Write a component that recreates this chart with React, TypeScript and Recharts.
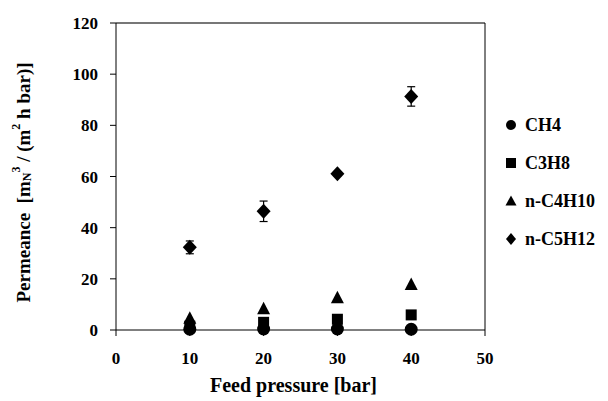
import React from 'react';
import { ScatterChart, Scatter, XAxis, YAxis, ErrorBar, Legend, ReferenceLine, Label } from 'recharts';

const pressures = [10, 20, 30, 40];
const ch4 = [0.3, 0.4, 0.4, 0.3];
const c3h8 = [1.5, 3.0, 4.2, 5.9];
const nc4h10 = [4.6, 8.3, 12.6, 17.8];
const nc5h12 = [32.3, 46.4, 61.1, 91.3];
const nc5h12Err = [2.5, 4.0, 0.8, 3.8];
const xTicks = [0, 10, 20, 30, 40, 50];
const yTicks = [0, 20, 40, 60, 80, 100, 120];
const seriesNames = ['CH4', 'C3H8', 'n-C4H10', 'n-C5H12'];

const FONT = '"Liberation Serif", "Times New Roman", serif';

const mk = (vals: number[], errs?: number[]) =>
  pressures.map((p, i) => ({ x: p, y: vals[i], err: errs ? errs[i] : 0 }));

const CircleShape = (p: any) => <circle cx={p.cx} cy={p.cy} r={6.5} fill="#000" />;
const SquareShape = (p: any) => <rect x={p.cx - 5.5} y={p.cy - 5.5} width={11} height={11} fill="#000" />;
const TriangleShape = (p: any) => (
  <path d={`M${p.cx},${p.cy - 7} L${p.cx + 6.5},${p.cy + 5.5} L${p.cx - 6.5},${p.cy + 5.5} Z`} fill="#000" />
);
const DiamondShape = (p: any) => (
  <path d={`M${p.cx},${p.cy - 7.5} L${p.cx + 7},${p.cy} L${p.cx},${p.cy + 7.5} L${p.cx - 7},${p.cy} Z`} fill="#000" />
);

const legendIcons = [
  <circle cx={6} cy={6} r={5} fill="#000" />,
  <rect x={1} y={1} width={10} height={10} fill="#000" />,
  <path d="M6,0.5 L11.5,10.5 L0.5,10.5 Z" fill="#000" />,
  <path d="M6,0 L11,6 L6,12 L1,6 Z" fill="#000" />,
];

const LegendContent = () => (
  <div style={{ fontFamily: FONT, fontWeight: 'bold', fontSize: 18, color: '#000', width: 110 }}>
    {seriesNames.map((n, i) => (
      <div key={n} style={{ display: 'flex', alignItems: 'center', height: 38, whiteSpace: 'nowrap' }}>
        <svg width={12} height={12} style={{ marginRight: 8 }}>{legendIcons[i]}</svg>
        <span>{n}</span>
      </div>
    ))}
  </div>
);

const YTitle = (props: any) => {
  const vb = props.viewBox || {};
  const cx = 23;
  const cy = vb.y + vb.height / 2 + 6;
  return (
    <text
      x={cx}
      y={cy}
      transform={`rotate(-90, ${cx}, ${cy})`}
      textAnchor="middle"
      dominantBaseline="central"
      style={{ fontFamily: FONT, fontWeight: 'bold', fontSize: 19, fill: '#000' }}
    >
      <tspan>{'Permeance\u00a0\u00a0[m'}</tspan>
      <tspan dy={4} fontSize={12}>N</tspan>
      <tspan dy={-11} fontSize={12}>3</tspan>
      <tspan dy={7}>{'\u00a0/\u00a0(m'}</tspan>
      <tspan dy={-7} fontSize={12}>2</tspan>
      <tspan dy={7}>{'\u00a0h bar)]'}</tspan>
    </text>
  );
};

const XTitle = (props: any) => {
  const vb = props.viewBox || {};
  const cx = vb.x + vb.width / 2 - 7;
  const cy = vb.y + vb.height + 25;
  return (
    <text
      x={cx}
      y={cy}
      textAnchor="middle"
      dominantBaseline="central"
      style={{ fontFamily: FONT, fontWeight: 'bold', fontSize: 20, fill: '#000' }}
    >
      Feed pressure [bar]
    </text>
  );
};

export default function App() {
  const tickStyle = { fontFamily: FONT, fontWeight: 'bold' as const, fontSize: 17, fill: '#000' };
  return (
    <div style={{ position: 'absolute', left: 0, top: 0, background: '#fff' }}>
      <ScatterChart width={608} height={401} margin={{ top: 23, right: 123, bottom: 41, left: 66 }}>
        <XAxis
          type="number"
          dataKey="x"
          domain={[0, 50]}
          ticks={xTicks}
          interval={0}
          tickSize={6}
          tickMargin={16}
          height={30}
          stroke="#000"
          tick={tickStyle}
          tickLine={{ stroke: '#000' }}
          axisLine={{ stroke: '#000' }}
        >
          <Label content={XTitle} />
        </XAxis>
        <YAxis
          type="number"
          dataKey="y"
          domain={[0, 120]}
          ticks={yTicks}
          interval={0}
          width={50}
          tickSize={6}
          tickMargin={12}
          stroke="#000"
          tick={tickStyle}
          tickLine={{ stroke: '#000' }}
          axisLine={{ stroke: '#000' }}
        >
          <Label content={YTitle} />
        </YAxis>
        <ReferenceLine y={120} stroke="#777" strokeWidth={2} />
        <ReferenceLine x={50} stroke="#000" strokeWidth={1} />
        <Legend
          layout="horizontal"
          align="left"
          verticalAlign="top"
          content={LegendContent}
          wrapperStyle={{ position: 'absolute', left: 505, top: 106, width: 0, height: 0, overflow: 'visible' }}
        />
        <Scatter name="C3H8" data={mk(c3h8)} shape={SquareShape} isAnimationActive={false} />
        <Scatter name="CH4" data={mk(ch4)} shape={CircleShape} isAnimationActive={false} />
        <Scatter name="n-C4H10" data={mk(nc4h10)} shape={TriangleShape} isAnimationActive={false} />
        <Scatter name="n-C5H12" data={mk(nc5h12, nc5h12Err)} shape={DiamondShape} isAnimationActive={false}>
          <ErrorBar dataKey="err" direction="y" width={4} stroke="#000" strokeWidth={1.2} />
        </Scatter>
      </ScatterChart>
    </div>
  );
}
